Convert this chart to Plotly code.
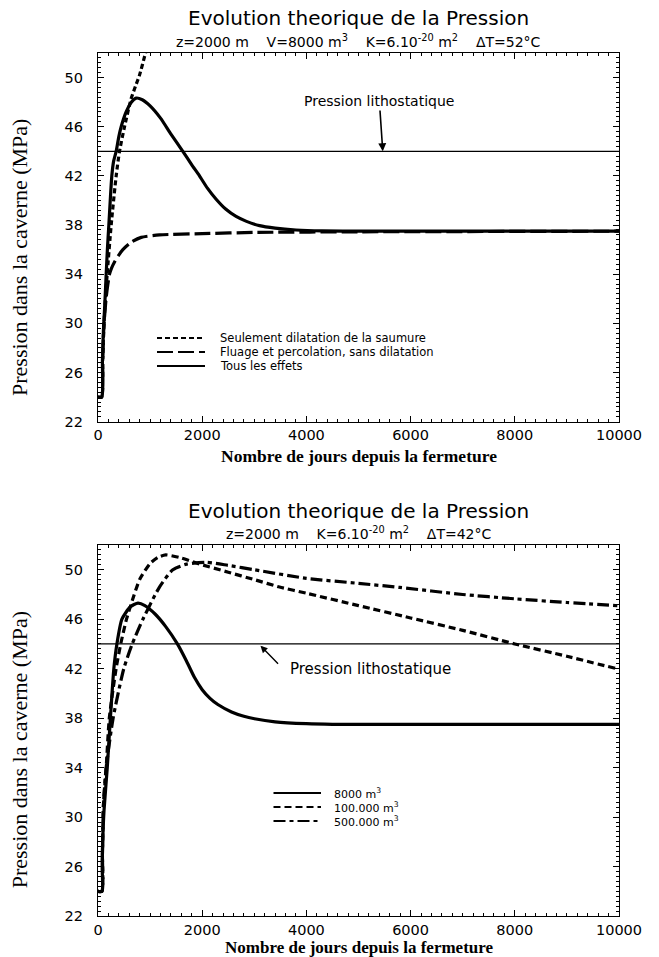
import plotly.graph_objects as go

# ---------------- data ----------------
LITHO = 44.0
X_RANGE = [0, 10000]
Y_RANGE = [22, 52]

# Top chart: V=8000 m3, dT=52C
dil_x = [0, 70, 90, 110, 135, 176, 253, 349, 413, 509, 637, 720, 797, 912, 1000]
dil_y = [24, 24, 27, 29.5, 31.5, 34, 38, 42, 44, 46, 48.3, 49.3, 50.2, 52, 53.3]

flu_x = [0, 70, 90, 110, 125, 157, 190, 221, 260, 317, 390, 477, 637, 829, 1180, 2000, 3000,
         5000, 10000]
flu_y = [24, 24, 27, 29.5, 30.5, 32.1, 33.2, 34, 34.5, 35, 35.5, 36, 36.6, 37, 37.2, 37.3,
         37.4, 37.45, 37.5]

tous_x = [0, 70, 85, 105, 130, 157, 180, 208, 235, 265, 300, 349, 400, 445, 540, 640, 733,
          850, 1000, 1200, 1400, 1628, 1800, 1948, 2100, 2268, 2450, 2650, 2850, 3100, 3400,
          3800, 4300, 5000, 10000]
tous_y = [24, 24, 27, 29.5, 31.5, 34, 36, 38, 40, 42, 43.2, 44, 45.2, 46, 47.2, 48.0, 48.33,
          48.2, 47.7, 46.7, 45.4, 44, 42.9, 42, 41.0, 40.1, 39.3, 38.7, 38.3, 37.95, 37.75,
          37.6, 37.52, 37.5, 37.5]

# Bottom chart: three cavern volumes, dT=42C
v8k_x = [0, 75, 80, 90, 115, 178, 238, 304, 363, 459, 620, 767, 900, 1100, 1300, 1524, 1700,
         1850, 2000, 2150, 2300, 2563, 2800, 3004, 3400, 4000, 4500, 10000]
v8k_y = [24, 24, 26, 28, 30.5, 34, 38, 42, 44, 46, 47.0, 47.3, 47.1, 46.4, 45.4, 44, 42.6,
         41.3, 40.3, 39.6, 39.1, 38.5, 38.15, 37.95, 37.7, 37.55, 37.5, 37.5]

v100k_x = [0, 75, 85, 105, 157, 217, 347, 436, 547, 680, 804, 1000, 1150, 1300, 1600, 1916,
           2500, 3000, 3484, 4000, 5000, 6000, 7000, 8000, 9000, 10000]
v100k_y = [24, 24, 27, 31, 34, 38, 42, 44, 46, 47.8, 49.25, 50.5, 51.0, 51.2, 50.95, 50.5,
           49.8, 49.2, 48.6, 48.1, 47.1, 46.1, 45.1, 44.0, 43.0, 41.95]

v500k_x = [0, 75, 85, 105, 157, 290, 495, 657, 862, 1180, 1436, 1700, 2077, 2500, 3000, 4000,
           5000, 5787, 7000, 8000, 9000, 10000]
v500k_y = [24, 24, 27, 31, 34, 38, 42, 44, 46, 48.6, 50.0, 50.45, 50.6, 50.35, 50.0, 49.3,
           48.9, 48.57, 48.0, 47.65, 47.35, 47.08]

X_TICKS = [0, 2000, 4000, 6000, 8000, 10000]
Y_TICKS = [22, 26, 30, 34, 38, 42, 46, 50]

TITLE = "Evolution theorique de la Pression"
SUB_TOP = ("z=2000 m\u00a0\u00a0\u00a0\u00a0V=8000 m<sup>3</sup>\u00a0\u00a0\u00a0\u00a0"
           "K=6.10<sup>-20</sup> m<sup>2</sup>\u00a0\u00a0\u00a0\u00a0\u0394T=52\u00b0C")
SUB_BOT = ("z=2000 m\u00a0\u00a0\u00a0\u00a0K=6.10<sup>-20</sup> m<sup>2</sup>"
           "\u00a0\u00a0\u00a0\u00a0\u0394T=42\u00b0C")
XTITLE = "Nombre de jours depuis la fermeture"
YTITLE = "Pression dans la caverne (MPa)"
LITHO_LABEL = "Pression lithostatique"
LEG_TOP = ["Seulement dilatation de la saumure", "Fluage et percolation, sans dilatation",
           "Tous les effets"]
LEG_BOT = ["8000 m<sup>3</sup>", "100.000 m<sup>3</sup>", "500.000 m<sup>3</sup>"]

# ---------------- layout helpers ----------------
W, H = 659, 957
ML, MR, MT, MB = 98, 40, 53, 41
PW = W - ML - MR
PH = H - MT - MB


def pxx(px):
    return (px - ML) / PW


def pxy(py):
    return (H - MB - py) / PH


SANS = "DejaVu Sans"
SERIF = "Liberation Serif"

DASH_SHORT = "5px,3px"
DASH_LONG = "16px,5px"
DASH_MED = "7px,4px"
DASH_DOT = "12px,4px,4px,4px"

fig = go.Figure()


def line(x, y, xa, ya, dash="solid", width=3.2, shape="spline"):
    fig.add_trace(go.Scatter(x=x, y=y, mode="lines", xaxis=xa, yaxis=ya, showlegend=False,
                             line=dict(color="black", width=width, dash=dash, shape=shape,
                                       smoothing=0.6),
                             hoverinfo="skip"))


# top
line(X_RANGE, [LITHO, LITHO], "x", "y", width=1.2, shape="linear")
line(dil_x, dil_y, "x", "y", DASH_SHORT)
line(flu_x, flu_y, "x", "y", DASH_LONG)
line(tous_x, tous_y, "x", "y")
# bottom
line(X_RANGE, [LITHO, LITHO], "x2", "y2", width=1.2, shape="linear")
line(v100k_x, v100k_y, "x2", "y2", DASH_MED)
line(v500k_x, v500k_y, "x2", "y2", DASH_DOT)
line(v8k_x, v8k_y, "x2", "y2")

axis_common = dict(
    showline=True, linecolor="black", linewidth=1.2, mirror="ticks",
    ticks="inside", ticklen=6, tickwidth=1.2, tickcolor="black",
    showgrid=False, zeroline=False,
    tickfont=dict(family=SANS, size=14.5, color="black"),
)
xax = dict(axis_common, range=X_RANGE, tickvals=X_TICKS, ticktext=[str(v) for v in X_TICKS],
           minor=dict(dtick=200, tick0=0, ticks="inside", ticklen=3, tickcolor="black",
                      tickwidth=1, showgrid=False),
           ticklabelstandoff=0)
yax = dict(axis_common, range=Y_RANGE, tickvals=Y_TICKS, ticktext=[str(v) for v in Y_TICKS],
           minor=dict(dtick=0.4, tick0=22, ticks="inside", ticklen=3, tickcolor="black",
                      tickwidth=1, showgrid=False),
           ticklabelstandoff=11)

TOP_DOM = [pxy(421.7), 1.0]
BOT_DOM = [0.0, pxy(545)]

annotations = []
shapes = []


def text(x, y, s, size, family=SANS, xanchor="center", angle=0, bold=False, xref="paper",
         yref="paper"):
    annotations.append(dict(
        x=x, y=y, xref=xref, yref=yref, text=("<b>%s</b>" % s) if bold else s,
        showarrow=False, xanchor=xanchor, yanchor="middle", textangle=angle,
        font=dict(family=family, size=size, color="black")))


# titles
for ty, sy, sub in [(18.3, 40.7, SUB_TOP), (511, 533, SUB_BOT)]:
    text(0.5, pxy(ty), TITLE, 20)
    text(0.5, pxy(sy), sub, 14)

# axis titles
text(0.5, pxy(456), XTITLE, 17.5, family=SERIF, bold=True)
text(0.5, pxy(947.5), XTITLE, 17, family=SERIF, bold=True)
text(pxx(19.5), pxy(257.5), YTITLE, 22, family=SERIF, angle=-90)
text(pxx(19.5), pxy(749.8), YTITLE, 22, family=SERIF, angle=-90)

# lithostatic annotations
annotations.append(dict(x=5466, y=LITHO, xref="x", yref="y", ax=5400, ay=48.1, axref="x",
                        ayref="y", text=LITHO_LABEL, showarrow=True, arrowhead=2,
                        arrowsize=1, arrowwidth=1.6, arrowcolor="black", standoff=0,
                        font=dict(family=SANS, size=14, color="black")))
text(3650, 42.0, LITHO_LABEL, 15, xref="x2", yref="y2", xanchor="left")
annotations.append(dict(x=3119, y=43.85, xref="x2", yref="y2", ax=3484, ay=42.27, axref="x2",
                        ayref="y2", text="", showarrow=True, arrowhead=2, arrowsize=1,
                        arrowwidth=1.4, arrowcolor="black", standoff=0))

# hand-placed legends
for (py, label, dash) in zip([338, 352, 366], LEG_TOP, [DASH_SHORT, DASH_LONG, "solid"]):
    shapes.append(dict(type="line", xref="paper", yref="paper", x0=pxx(157), x1=pxx(205),
                       y0=pxy(py), y1=pxy(py), line=dict(color="black", width=1.8, dash=dash)))
    text(pxx(218), pxy(py), label, 11.5, xanchor="left")
for (py, label, dash) in zip([793, 807, 821], LEG_BOT, ["solid", DASH_MED, DASH_DOT]):
    shapes.append(dict(type="line", xref="paper", yref="paper", x0=pxx(273.5), x1=pxx(321),
                       y0=pxy(py), y1=pxy(py), line=dict(color="black", width=1.8, dash=dash)))
    text(pxx(331.7), pxy(py), label, 11, xanchor="left")

fig.update_layout(
    width=W, height=H,
    margin=dict(l=ML, r=MR, t=MT, b=MB),
    paper_bgcolor="white", plot_bgcolor="white",
    showlegend=False,
    xaxis=dict(xax, domain=[0, 1], anchor="y"),
    yaxis=dict(yax, domain=TOP_DOM, anchor="x"),
    xaxis2=dict(xax, domain=[0, 1], anchor="y2"),
    yaxis2=dict(yax, domain=BOT_DOM, anchor="x2"),
    annotations=annotations,
    shapes=shapes,
)

fig.write_html("out.html")
